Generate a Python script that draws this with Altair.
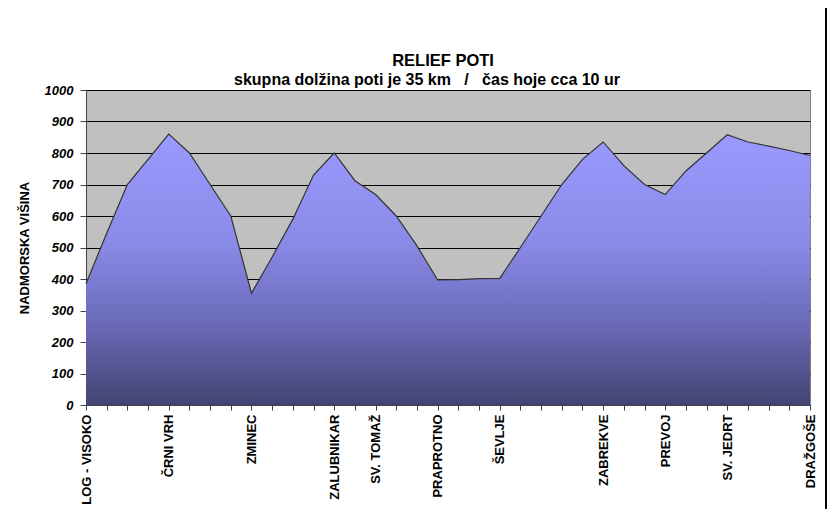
import altair as alt
import pandas as pd

km = list(range(36))
elev = [385, 545, 700, 780, 860, 800, 700, 600, 355, 470, 590, 730, 800, 712, 668,
        600, 505, 397, 398, 401, 402, 500, 600, 700, 780, 835, 760, 700, 668, 743,
        800, 858, 835, 822, 808, 792]
place_idx = [0, 4, 8, 12, 14, 17, 20, 25, 28, 31, 35]
place_names = ["LOG - VISOKO", "ČRNI VRH", "ZMINEC", "ZALUBNIKAR", "SV. TOMAŽ",
               "PRAPROTNO", "ŠEVLJE", "ZABREKVE", "PREVOJ", "SV. JEDRT", "DRAŽGOŠE"]
y_ticks = [0, 100, 200, 300, 400, 500, 600, 700, 800, 900, 1000]
title_text = "RELIEF POTI"
subtitle_text = "skupna dolžina poti je 35 km\u00a0\u00a0\u00a0/\u00a0\u00a0\u00a0čas hoje cca 10 ur"

labels = [""] * len(km)
for i, n in zip(place_idx, place_names):
    labels[i] = n

df = pd.DataFrame({"km": km, "elev": elev})
label_arr = "[" + ",".join("'" + s + "'" for s in labels) + "]"

FONT = "Liberation Sans"

x_enc = alt.X("km:Q", scale=alt.Scale(domain=[0, 35], nice=False, zero=False),
              axis=alt.Axis(values=km, labelExpr=label_arr + "[datum.value]",
                            labelAngle=-90, labelFont=FONT, labelFontWeight="bold",
                            labelFontSize=13, labelColor="#000000", labelPadding=4,
                            tickColor="#404040", tickSize=5, domainColor="#404040",
                            grid=False, title=None, labelOverlap=False,
                            labelBound=False, labelFlush=False))
y_enc = alt.Y("elev:Q", scale=alt.Scale(domain=[0, 1000], nice=False),
              axis=alt.Axis(values=y_ticks, format="d", labelFont=FONT,
                            labelFontWeight="bold",
                            labelFontStyle="italic", labelFontSize=13,
                            labelColor="#000000", labelPadding=7,
                            tickColor="#404040", tickSize=6, domainColor="#404040",
                            gridColor="#000000", gridWidth=1,
                            title="NADMORSKA VIŠINA", titleFont=FONT,
                            titleFontWeight="bold", titleFontSize=13,
                            titleColor="#000000", titlePadding=13))

grad = alt.Gradient(gradient="linear",
                    stops=[alt.GradientStop(color="#434372", offset=0),
                           alt.GradientStop(color="#6a6ab8", offset=0.3),
                           alt.GradientStop(color="#8a8ae8", offset=0.6),
                           alt.GradientStop(color="#9a9aff", offset=1)],
                    x1=0, x2=0, y1=1, y2=0)

area = alt.Chart(df).mark_area(color=grad, opacity=1,
                               line={"color": "#333333", "strokeWidth": 1.2}).encode(
    x=x_enc, y=y_enc)

border = alt.Chart(df).mark_rule(color="#000000", strokeWidth=1.5).encode(
    x=alt.value(740), y=alt.value(-95), y2=alt.value(430))

title = alt.Chart(pd.DataFrame({"t": [title_text]})).mark_text(
    font=FONT, fontSize=16.5, fontWeight="bold", color="#000000",
    align="center", baseline="middle").encode(
    text="t:N", x=alt.value(357), y=alt.value(-29))

subtitle = alt.Chart(pd.DataFrame({"t": [subtitle_text]})).mark_text(
    font=FONT, fontSize=16, fontWeight="bold", color="#000000",
    align="center", baseline="middle").encode(
    text="t:N", x=alt.value(341), y=alt.value(-10))

chart = alt.layer(area, border, title, subtitle).properties(
    width=724, height=315,
    background="#ffffff",
    autosize=alt.AutoSizeParams(type="none"),
    padding={"left": 78, "top": 82, "right": 17, "bottom": 104},
).configure_view(fill="#c0c0c0", stroke="#808080", strokeWidth=1)

chart.save("out.html", embed_options={"renderer": "svg", "actions": False})
